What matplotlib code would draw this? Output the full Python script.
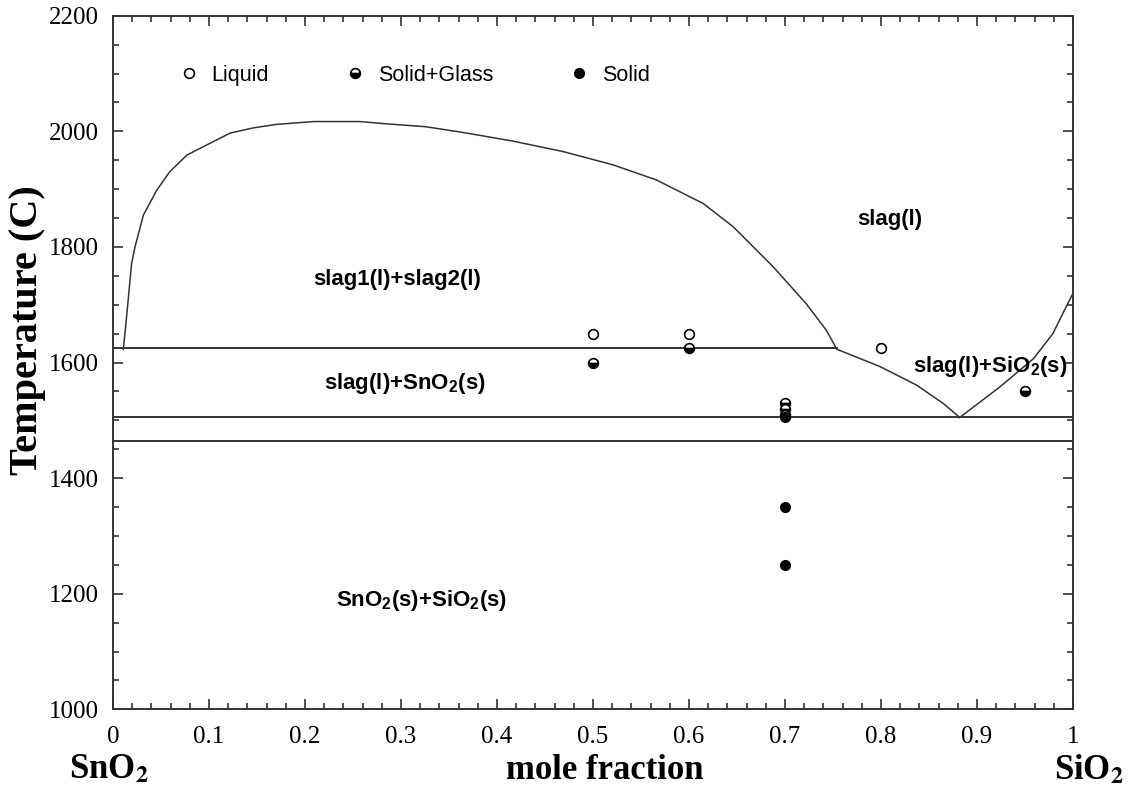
import numpy as np
import matplotlib.pyplot as plt
from matplotlib.lines import Line2D
from matplotlib.ticker import MultipleLocator

# Límites de fase (fracción molar de SiO2, temperatura en C)
gap_x = [0.0107, 0.0135, 0.0194, 0.0229, 0.0316, 0.0455, 0.059, 0.077, 0.097,
         0.122, 0.146, 0.170, 0.209, 0.257, 0.285, 0.326, 0.365, 0.417, 0.469,
         0.521, 0.566, 0.615, 0.646, 0.6875, 0.722, 0.743, 0.754]
gap_t = [1623, 1668, 1772, 1800, 1855, 1898, 1930, 1959, 1976,
         1997, 2006, 2012, 2017, 2017, 2013, 2008, 1998, 1983, 1965,
         1942, 1916, 1875, 1835, 1766, 1702, 1656, 1623]

liq_izq_x = [0.754, 0.799, 0.837, 0.865, 0.882]
liq_izq_t = [1623, 1593, 1561, 1529, 1505]

liq_der_x = [0.882, 0.924, 0.959, 0.979, 0.993, 1.0]
liq_der_t = [1505, 1558, 1607, 1650, 1697, 1720]

# Isotermas: temperatura, x inicial, x final
isotermas = [(1625, 0.0, 0.754), (1505, 0.0, 1.0), (1465, 0.0, 1.0)]

# Experimentos
liquido_x = [0.5, 0.6, 0.8]
liquido_t = [1650, 1650, 1625]
vidrio_x = [0.5, 0.6, 0.7, 0.7, 0.7, 0.95]
vidrio_t = [1600, 1625, 1530, 1520, 1510, 1550]
solido_x = [0.7, 0.7, 0.7]
solido_t = [1505, 1350, 1250]

# Etiquetas de regiones
regiones = ['slag(l)', 'slag1(l)+slag2(l)', r'slag(l)+SnO$_\mathbf{2}$(s)',
            r'slag(l)+SiO$_\mathbf{2}$(s)', r'SnO$_\mathbf{2}$(s)+SiO$_\mathbf{2}$(s)']
regiones_x = [0.809, 0.296, 0.304, 0.914, 0.321]
regiones_t = [1847, 1743, 1564, 1594, 1189]

plt.rcParams['mathtext.fontset'] = 'custom'
plt.rcParams['mathtext.rm'] = 'Liberation Sans'
plt.rcParams['mathtext.bf'] = 'Liberation Sans:bold'

fig = plt.figure(figsize=(11.29, 7.89), dpi=100)
ax = fig.add_axes([0.1001, 0.1010, 0.8503, 0.8790])

color_linea = '#333333'
ax.plot(gap_x, gap_t, color=color_linea, lw=1.1)
ax.plot(liq_izq_x, liq_izq_t, color=color_linea, lw=1.1)
ax.plot(liq_der_x, liq_der_t, color=color_linea, lw=1.1)
for t, x0, x1 in isotermas:
    ax.plot([x0, x1], [t, t], color=color_linea, lw=1.4)

ms = 7
ax.plot(liquido_x, liquido_t, 'o', ms=ms, mfc='white', mec='black', mew=1.2, ls='none')
ax.plot(vidrio_x, vidrio_t, 'o', ms=ms, fillstyle='bottom', mfc='black',
        mfcalt='white', mec='black', mew=1.2, ls='none')
ax.plot(solido_x, solido_t, 'o', ms=ms, mfc='black', mec='black', ls='none')

for txt, x, t in zip(regiones, regiones_x, regiones_t):
    ax.text(x, t, txt, ha='center', va='center', fontsize=16,
            fontweight='bold', family='Liberation Sans')

# Leyenda
handles = [
    Line2D([], [], marker='o', ls='none', ms=ms, mfc='white', mec='black', mew=1.2),
    Line2D([], [], marker='o', ls='none', ms=ms, fillstyle='bottom', mfc='black',
           mfcalt='white', mec='black', mew=1.2),
    Line2D([], [], marker='o', ls='none', ms=ms, mfc='black', mec='black'),
]
ax.legend(handles, ['Liquid', 'Solid+Glass', 'Solid'], ncol=3, frameon=False,
          loc='center left', bbox_to_anchor=(0.0677, 0.9145), borderpad=0,
          borderaxespad=0, handlelength=1.0, handletextpad=0.55,
          columnspacing=3.5, prop={'family': 'Liberation Sans', 'size': 15.5})

ax.set_xlim(0, 1)
ax.set_ylim(1000, 2200)
ax.xaxis.set_major_locator(MultipleLocator(0.1))
ax.xaxis.set_minor_locator(MultipleLocator(0.02))
ax.yaxis.set_major_locator(MultipleLocator(200))
ax.yaxis.set_minor_locator(MultipleLocator(50))
ax.set_xticks(np.arange(0, 1.01, 0.1))
ax.set_xticklabels(['0', '0.1', '0.2', '0.3', '0.4', '0.5', '0.6', '0.7', '0.8', '0.9', '1'])
ax.tick_params(which='both', direction='in', top=True, right=True, color='#333333',
               width=1.2)
ax.tick_params(which='major', length=7)
ax.tick_params(which='minor', length=4)
ax.tick_params(axis='x', which='major', pad=12)
ax.tick_params(axis='y', which='major', pad=10)
for lab in ax.get_xticklabels() + ax.get_yticklabels():
    lab.set_family('Liberation Serif')
    lab.set_fontsize(18)
for s in ax.spines.values():
    s.set_color('#333333')
    s.set_linewidth(1.4)

fig.text(0.024, 0.582, 'Temperature (C)', rotation=90, ha='center', va='center',
         fontsize=29, fontweight='bold', family='Liberation Serif')
fig.text(0.536, 0.024, 'mole fraction', ha='center', va='center',
         fontsize=25, fontweight='bold', family='Liberation Serif')
fig.text(0.096, 0.024, r'SnO$_\mathbf{2}$', ha='center', va='center',
         fontsize=25, fontweight='bold', family='Liberation Serif',
         math_fontfamily='stix')
fig.text(0.965, 0.024, r'SiO$_\mathbf{2}$', ha='center', va='center',
         fontsize=25, fontweight='bold', family='Liberation Serif',
         math_fontfamily='stix')

plt.savefig('out.png', dpi=100)
